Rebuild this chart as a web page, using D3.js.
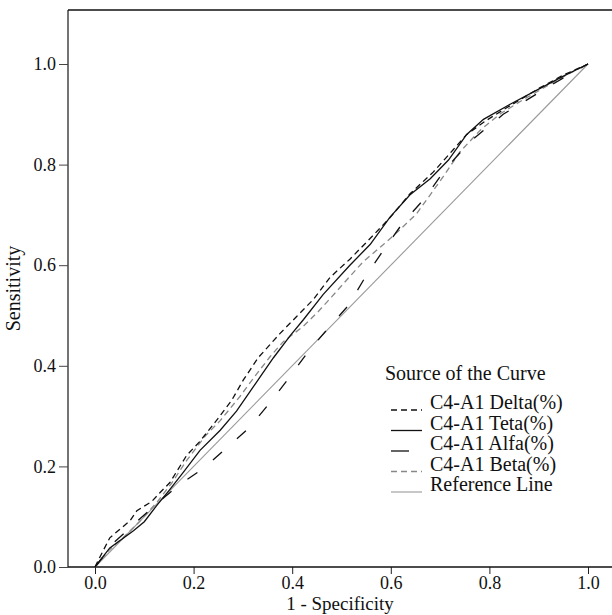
<!DOCTYPE html>
<html>
<head>
<meta charset="utf-8">
<script src="https://cdn.jsdelivr.net/npm/d3@7/dist/d3.min.js"></script>
<style>
  body { margin: 0; background: #fff; }
  svg text { font-family: "Liberation Serif", "Times New Roman", serif; fill: #111; }
</style>
</head>
<body>
<div id="roc-chart"></div>
<script>
// points: [1 - specificity, sensitivity]
var deltaCurve = [[0,0],[0.01,0.02],[0.03,0.058],[0.071,0.092],[0.085,0.112],[0.115,0.13],[0.132,0.148],[0.152,0.168],[0.186,0.222],[0.213,0.25],[0.243,0.287],[0.277,0.331],[0.301,0.372],[0.331,0.416],[0.375,0.464],[0.409,0.498],[0.443,0.532],[0.477,0.576],[0.517,0.612],[0.558,0.653],[0.598,0.694],[0.639,0.742],[0.686,0.785],[0.727,0.83],[0.754,0.86],[0.794,0.888],[0.835,0.913],[0.903,0.953],[0.95,0.978],[1,1]];
var tetaCurve = [[0,0],[0.03,0.038],[0.078,0.072],[0.1,0.09],[0.125,0.122],[0.15,0.152],[0.179,0.188],[0.213,0.232],[0.254,0.272],[0.287,0.31],[0.314,0.348],[0.335,0.378],[0.362,0.416],[0.396,0.46],[0.423,0.492],[0.463,0.542],[0.517,0.6],[0.558,0.641],[0.598,0.695],[0.639,0.74],[0.68,0.772],[0.717,0.809],[0.754,0.86],[0.788,0.89],[0.842,0.92],[0.9,0.95],[0.95,0.976],[1,1]];
var alfaCurve = [[0,0],[0.04,0.05],[0.09,0.095],[0.13,0.13],[0.172,0.164],[0.22,0.196],[0.264,0.234],[0.311,0.275],[0.355,0.327],[0.392,0.374],[0.433,0.429],[0.477,0.479],[0.514,0.52],[0.551,0.581],[0.588,0.634],[0.625,0.685],[0.669,0.733],[0.71,0.79],[0.76,0.845],[0.828,0.9],[0.87,0.925],[0.92,0.955],[0.96,0.978],[1,1]];
var betaCurve = [[0,0],[0.03,0.035],[0.057,0.058],[0.09,0.09],[0.125,0.128],[0.155,0.166],[0.186,0.212],[0.225,0.262],[0.254,0.291],[0.294,0.339],[0.325,0.38],[0.355,0.418],[0.382,0.448],[0.423,0.479],[0.453,0.508],[0.48,0.537],[0.51,0.57],[0.544,0.607],[0.585,0.641],[0.619,0.671],[0.652,0.702],[0.68,0.74],[0.707,0.777],[0.74,0.825],[0.781,0.868],[0.822,0.901],[0.87,0.93],[0.92,0.958],[0.96,0.98],[1,1]];
var referenceLine = [[0,0],[1,1]];

var seriesNames = ['C4-A1 Delta(%)', 'C4-A1 Teta(%)', 'C4-A1 Alfa(%)', 'C4-A1 Beta(%)', 'Reference Line'];
var tickValues = [0, 0.2, 0.4, 0.6, 0.8, 1.0];

var series = [
  { name: seriesNames[0], pts: deltaCurve, color: '#111', dash: '6,4', legendDash: '6,4', w: 1.3 },
  { name: seriesNames[1], pts: tetaCurve, color: '#111', dash: null, legendDash: null, w: 1.3 },
  { name: seriesNames[2], pts: alfaCurve, color: '#111', dash: '12,20', legendDash: '18,14', w: 1.3 },
  { name: seriesNames[3], pts: betaCurve, color: '#888', dash: '6,4', legendDash: '6,4', w: 1.3 },
  { name: seriesNames[4], pts: referenceLine, color: '#999', dash: null, legendDash: null, w: 1.1 }
];

var width = 612, height = 615;
var frame = { left: 68, top: 10, right: 612, bottom: 567 };

const svg = d3.select('#roc-chart')
  .append('svg')
  .attr('width', width)
  .attr('height', height);

const xScale = d3.scaleLinear().domain([0, 1]).range([95, 588]);
const yScale = d3.scaleLinear().domain([0, 1]).range([567, 64]);

// x axis
const xAxis = svg.append('g')
  .attr('transform', 'translate(0,' + frame.bottom + ')')
  .call(d3.axisBottom(xScale).tickValues(tickValues).tickSize(7).tickPadding(2).tickFormat(d3.format('.1f')));
xAxis.select('.domain').remove();
xAxis.selectAll('line').attr('stroke', '#222');
xAxis.selectAll('text').style('font-size', '18px').attr('fill', '#111');

// y axis
const yAxis = svg.append('g')
  .attr('transform', 'translate(' + frame.left + ',0)')
  .call(d3.axisLeft(yScale).tickValues(tickValues).tickSize(9).tickPadding(3).tickFormat(d3.format('.1f')));
yAxis.select('.domain').remove();
yAxis.selectAll('line').attr('stroke', '#444');
yAxis.selectAll('text').style('font-size', '18px').attr('fill', '#111');

// frame lines (left, top, bottom)
svg.append('line').attr('x1', frame.left).attr('x2', frame.left).attr('y1', frame.top).attr('y2', frame.bottom)
  .attr('stroke', '#444').attr('stroke-width', 1.5);
svg.append('line').attr('x1', frame.left).attr('x2', frame.right).attr('y1', frame.top).attr('y2', frame.top)
  .attr('stroke', '#111').attr('stroke-width', 1.3);
svg.append('line').attr('x1', frame.left).attr('x2', frame.right).attr('y1', frame.bottom).attr('y2', frame.bottom)
  .attr('stroke', '#111').attr('stroke-width', 1.3);

// curves
const line = d3.line().x(d => xScale(d[0])).y(d => yScale(d[1]));
svg.selectAll('.curve')
  .data(series.slice().reverse())
  .enter().append('path')
  .attr('class', 'curve')
  .attr('d', d => line(d.pts))
  .attr('fill', 'none')
  .attr('stroke', d => d.color)
  .attr('stroke-width', d => d.w)
  .attr('stroke-dasharray', d => d.dash);

// axis titles
svg.append('text')
  .attr('x', (frame.left + frame.right) / 2)
  .attr('y', 610)
  .attr('text-anchor', 'middle')
  .style('font-size', '19px')
  .text('1 - Specificity');
svg.append('text')
  .attr('transform', 'translate(20,' + (frame.top + frame.bottom) / 2 + ') rotate(-90)')
  .attr('text-anchor', 'middle')
  .style('font-size', '20px')
  .text('Sensitivity');

// legend
const legend = svg.append('g').attr('transform', 'translate(385,380)');
legend.append('text').attr('x', 0).attr('y', 0).style('font-size', '20px').text('Source of the Curve');
const items = legend.selectAll('.item')
  .data(series)
  .enter().append('g')
  .attr('class', 'item')
  .attr('transform', (d, i) => 'translate(0,' + (29 + i * 20.5) + ')');
items.append('line')
  .attr('x1', 6).attr('x2', 37).attr('y1', 1).attr('y2', 1)
  .attr('stroke', d => d.color)
  .attr('stroke-width', d => d.w)
  .attr('stroke-dasharray', d => d.legendDash);
items.append('text')
  .attr('x', 45).attr('y', 0)
  .style('font-size', '20px')
  .text(d => d.name);
</script>
</body>
</html>
